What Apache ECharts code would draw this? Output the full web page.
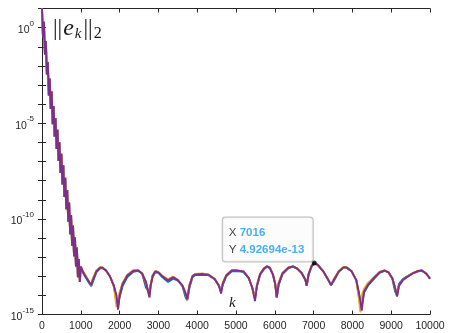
<!DOCTYPE html>
<html>
<head>
<meta charset="utf-8">
<script src="https://cdn.jsdelivr.net/npm/echarts@6/dist/echarts.min.js"></script>
<style>
  html, body { margin: 0; padding: 0; background: #ffffff; }
  #chart { width: 450px; height: 333px; }
</style>
</head>
<body>
<div id="chart"></div>
<script>
// Initial decay phase (the error oscillates while it drops), shared by all runs
const decayK = [0, 25, 50, 75, 100, 125, 150, 175, 200, 225, 250, 275, 300, 325, 350, 375, 400,
  425, 450, 475, 500, 525, 550, 575, 600, 625, 650, 675, 700, 725, 750, 775, 800, 825, 850, 875,
  900, 925, 950, 975, 1000];
const decayErr = [1e1, 3.2e-1, 2.0e0, 4.0e-2, 2.0e-1, 3.5e-3, 1.6e-2, 2.8e-4, 2.2e-3, 5.6e-5, 4.5e-4,
  8.9e-6, 7.9e-5, 2.0e-6, 1.8e-5, 4.5e-7, 4.5e-6, 1.1e-7, 1.0e-6, 2.5e-8, 2.5e-7, 6.3e-9, 6.3e-8,
  1.4e-9, 1.4e-8, 3.2e-10, 3.2e-9, 7.1e-11, 7.1e-10, 1.6e-11, 1.6e-10, 4.0e-12, 4.5e-11, 1.1e-12,
  1.1e-11, 3.2e-13, 3.2e-12, 8.9e-14, 7.9e-13, 5.0e-14, 3.2e-13];

// Stagnation phase: iteration numbers and error of each run
const tailK = [1060, 1150, 1230, 1270, 1310, 1400, 1500, 1560, 1650, 1750, 1850, 1920, 1960, 2000,
  2080, 2200, 2350, 2480, 2580, 2680, 2770, 2800, 2850, 2920, 3000, 3100, 3250, 3380, 3500, 3620,
  3700, 3745, 3800, 3880, 3950, 4150, 4290, 4450, 4560, 4615, 4660, 4750, 4890, 5000, 5190, 5330,
  5420, 5490, 5540, 5620, 5720, 5800, 5870, 5950, 6010, 6050, 6100, 6200, 6350, 6470, 6580, 6700,
  6790, 6822, 6870, 6950, 7016, 7100, 7250, 7380, 7450, 7520, 7650, 7780, 7860, 7980, 8100, 8170,
  8205, 8240, 8300, 8400, 8550, 8700, 8830, 8930, 9030, 9100, 9150, 9200, 9300, 9400, 9550, 9700,
  9790, 9900, 10000];

const errBlue = [1.5e-13, 7.1e-14, 4.0e-14, 3.0e-14, 5.0e-14, 1.6e-13, 2.6e-13, 2.7e-13, 2.0e-13,
  1.0e-13, 3.2e-14, 6.3e-15, 3.2e-15, 8.0e-15, 3.2e-14, 9.0e-14, 1.7e-13, 1.9e-13, 1.4e-13, 2.5e-14,
  1.4e-14, 3.5e-14, 9.0e-14, 1.6e-13, 1.5e-13, 9.0e-14, 5.0e-14, 7.5e-14, 6.0e-14, 3.0e-14, 8.0e-15,
  5.6e-15, 2.5e-14, 9.0e-14, 1.15e-13, 1.2e-13, 1.15e-13, 7.1e-14, 3.2e-14, 2.0e-14, 3.5e-14, 1.0e-13,
  1.8e-13, 1.85e-13, 1.7e-13, 7.9e-14, 2.5e-14, 8.0e-15, 3.0e-14, 1.15e-13, 2.3e-13, 3.1e-13, 2.7e-13,
  1.26e-13, 4.0e-14, 7.9e-15, 3.5e-14, 1.3e-13, 2.6e-13, 3.2e-13, 2.5e-13, 1.4e-13, 6.3e-14, 3.2e-14,
  1.15e-13, 3.3e-13, 4.7e-13, 4.0e-13, 1.8e-13, 6.3e-14, 3.5e-14, 5.6e-14, 1.7e-13, 2.9e-13, 2.8e-13,
  1.8e-13, 6.3e-14, 1.26e-14, 4.0e-15, 3.0e-15, 1.4e-14, 3.2e-14, 7.1e-14, 1.5e-13, 1.9e-13, 1.6e-13,
  7.1e-14, 1.6e-14, 1.1e-14, 4.0e-14, 7.1e-14, 9.5e-14, 1.4e-13, 1.8e-13, 1.9e-13, 1.4e-13, 7.9e-14];

const errOrange = [1.7e-13, 8.5e-14, 4.5e-14, 3.5e-14, 7.1e-14, 1.9e-13, 2.9e-13, 2.8e-13, 2.0e-13,
  1.0e-13, 3.2e-14, 5.0e-15, 2.2e-15, 1.3e-14, 4.5e-14, 1.15e-13, 2.0e-13, 2.0e-13, 1.4e-13, 4.0e-14,
  1.0e-14, 3.2e-14, 1.1e-13, 1.85e-13, 1.6e-13, 1.05e-13, 6.8e-14, 9.5e-14, 6.3e-14, 3.2e-14, 1.26e-14,
  6.3e-15, 3.5e-14, 1.05e-13, 1.3e-13, 1.35e-13, 1.2e-13, 7.1e-14, 3.2e-14, 1.6e-14, 4.5e-14, 1.15e-13,
  2.0e-13, 2.0e-13, 1.8e-13, 7.9e-14, 2.5e-14, 7.0e-15, 3.5e-14, 1.3e-13, 2.6e-13, 3.3e-13, 2.8e-13,
  1.26e-13, 4.0e-14, 7.9e-15, 4.5e-14, 1.5e-13, 2.9e-13, 3.3e-13, 2.5e-13, 1.4e-13, 6.3e-14, 3.2e-14,
  1.3e-13, 3.6e-13, 4.9e-13, 4.0e-13, 1.8e-13, 6.3e-14, 3.5e-14, 6.8e-14, 1.9e-13, 3.1e-13, 2.8e-13,
  1.8e-13, 6.3e-14, 7.9e-15, 2.5e-15, 6.0e-15, 2.0e-14, 4.0e-14, 8.5e-14, 1.7e-13, 2.0e-13, 1.6e-13,
  7.9e-14, 2.5e-14, 8.9e-15, 3.2e-14, 6.3e-14, 8.9e-14, 1.4e-13, 1.9e-13, 2.0e-13, 1.4e-13, 7.4e-14];

const errYellow = [1.8e-13, 8.9e-14, 4.5e-14, 3.5e-14, 7.1e-14, 2.0e-13, 3.0e-13, 2.9e-13, 2.0e-13,
  1.0e-13, 3.0e-14, 2.5e-15, 4.0e-15, 1.3e-14, 4.5e-14, 1.2e-13, 2.05e-13, 2.1e-13, 1.4e-13, 5.0e-14,
  7.9e-15, 3.2e-14, 1.1e-13, 1.9e-13, 1.7e-13, 1.05e-13, 6.3e-14, 9.5e-14, 6.3e-14, 3.2e-14, 1.26e-14,
  6.3e-15, 3.5e-14, 1.05e-13, 1.3e-13, 1.35e-13, 1.25e-13, 7.1e-14, 3.2e-14, 1.6e-14, 4.5e-14, 1.15e-13,
  2.1e-13, 2.1e-13, 1.85e-13, 7.9e-14, 2.5e-14, 7.0e-15, 3.5e-14, 1.3e-13, 2.6e-13, 3.4e-13, 2.9e-13,
  1.26e-13, 4.0e-14, 7.9e-15, 4.5e-14, 1.5e-13, 2.9e-13, 3.4e-13, 2.6e-13, 1.4e-13, 6.3e-14, 3.2e-14,
  1.3e-13, 3.6e-13, 5.0e-13, 4.1e-13, 1.8e-13, 6.3e-14, 3.5e-14, 6.8e-14, 1.9e-13, 3.1e-13, 2.9e-13,
  1.8e-13, 6.3e-14, 6.0e-15, 1.3e-15, 1.0e-14, 2.2e-14, 4.5e-14, 8.5e-14, 1.7e-13, 2.05e-13, 1.6e-13,
  7.9e-14, 2.5e-14, 8.9e-15, 3.2e-14, 6.3e-14, 8.9e-14, 1.45e-13, 1.95e-13, 2.05e-13, 1.4e-13, 7.4e-14];

const errPurple = [1.6e-13, 7.9e-14, 4.5e-14, 3.5e-14, 6.3e-14, 1.8e-13, 2.8e-13, 2.8e-13, 2.0e-13,
  1.0e-13, 3.2e-14, 1.0e-14, 1.8e-15, 1.0e-14, 4.0e-14, 1.1e-13, 1.9e-13, 2.0e-13, 1.4e-13, 5.0e-14,
  7.9e-15, 3.2e-14, 1.0e-13, 1.8e-13, 1.6e-13, 1.0e-13, 6.0e-14, 8.9e-14, 6.3e-14, 3.2e-14, 1.26e-14,
  6.3e-15, 3.2e-14, 1.0e-13, 1.26e-13, 1.3e-13, 1.2e-13, 7.1e-14, 3.2e-14, 1.26e-14, 4.0e-14, 1.1e-13,
  2.0e-13, 2.0e-13, 1.8e-13, 7.9e-14, 2.5e-14, 5.0e-15, 3.2e-14, 1.26e-13, 2.5e-13, 3.3e-13, 2.8e-13,
  1.26e-13, 4.0e-14, 7.9e-15, 4.0e-14, 1.4e-13, 2.8e-13, 3.3e-13, 2.5e-13, 1.4e-13, 6.3e-14, 3.2e-14,
  1.26e-13, 3.5e-13, 4.92694e-13, 4.0e-13, 1.8e-13, 6.3e-14, 3.5e-14, 6.3e-14, 1.8e-13, 3.0e-13, 2.8e-13,
  1.8e-13, 6.3e-14, 1.26e-14, 5.0e-15, 1.6e-15, 1.6e-14, 3.5e-14, 7.9e-14, 1.6e-13, 2.0e-13, 1.6e-13,
  7.9e-14, 2.5e-14, 8.9e-15, 3.2e-14, 6.3e-14, 8.9e-14, 1.4e-13, 1.9e-13, 2.0e-13, 1.4e-13, 7.4e-14];

// Data tip pinned on the purple run
const tipK = 7016;
const tipErr = 4.92694e-13;

const runColors = ['#0072BD', '#D95319', '#EDB120', '#7E2F8E'];
const runErrs = [errBlue, errOrange, errYellow, errPurple];

const axisColor = '#262626';
const sansFont = '"Liberation Sans", Arial, Helvetica, sans-serif';
const serifFont = '"Liberation Serif", "Times New Roman", serif';

function runData(errs) {
  const pts = decayK.map((k, i) => [k, decayErr[i]]);
  tailK.forEach((k, i) => pts.push([k, errs[i]]));
  return pts;
}

const lineSeries = runErrs.map((errs, r) => ({
  type: 'line',
  data: runData(errs),
  showSymbol: false,
  symbol: 'none',
  clip: true,
  lineStyle: { color: runColors[r], width: 1.9 },
  itemStyle: { color: runColors[r] },
  z: 2 + r
}));

const tipSeries = {
  type: 'scatter',
  data: [[tipK, tipErr]],
  symbol: 'circle',
  symbolSize: 5,
  itemStyle: { color: '#000000' },
  z: 10,
  label: {
    show: true,
    position: [1, 1],
    align: 'right',
    verticalAlign: 'bottom',
    formatter: () => '{l|X}{v|' + tipK + '}\n{l|Y}{v|' + tipErr.toExponential(5) + '}',
    backgroundColor: '#fbfbfd',
    borderColor: '#a9a9a9',
    borderWidth: 1,
    borderRadius: 3,
    padding: [7, 6, 3, 6],
    rich: {
      l: { fontFamily: sansFont, fontSize: 11.5, color: '#111111', lineHeight: 17, width: 11, align: 'left' },
      v: { fontFamily: sansFont, fontSize: 11.5, fontWeight: 'bold', color: '#1a9af2', lineHeight: 17, width: 67, align: 'left' }
    }
  }
};

const yLabelFmt = (v) => {
  const e = Math.round(Math.log10(v));
  if (e % 5 !== 0) return '';
  return '{b|10}{s|' + e + '}';
};

const chart = echarts.init(document.getElementById('chart'), null, { renderer: 'canvas' });
chart.setOption({
  animation: false,
  backgroundColor: '#ffffff',
  grid: { left: 42, right: 20, top: 8.5, bottom: 18.5, containLabel: false },
  xAxis: [{
    type: 'value', min: 0, max: 10000, interval: 1000, position: 'bottom',
    axisLine: { show: true, onZero: false, lineStyle: { color: axisColor, width: 1 } },
    axisTick: { show: true, inside: true, length: 4, lineStyle: { color: axisColor } },
    axisLabel: { color: axisColor, fontFamily: sansFont, fontSize: 10.5, margin: 6, formatter: (v) => String(v) },
    splitLine: { show: false }
  }, {
    type: 'value', min: 0, max: 10000, interval: 1000, position: 'top',
    axisLine: { show: true, onZero: false, lineStyle: { color: axisColor, width: 1 } },
    axisTick: { show: true, inside: true, length: 4, lineStyle: { color: axisColor } },
    axisLabel: { show: false },
    splitLine: { show: false }
  }],
  yAxis: [{
    type: 'log', logBase: 10, min: 1e-15, max: 1e1, interval: 1, position: 'left',
    axisLine: { show: true, lineStyle: { color: axisColor, width: 1 } },
    axisTick: { show: true, inside: true, length: 4, lineStyle: { color: axisColor } },
    axisLabel: {
      formatter: yLabelFmt, margin: 8,
      rich: {
        b: { fontFamily: sansFont, fontSize: 10.5, color: axisColor, lineHeight: 16, verticalAlign: 'bottom' },
        s: { fontFamily: sansFont, fontSize: 8, color: axisColor, lineHeight: 8, verticalAlign: 'top' }
      }
    },
    splitLine: { show: false },
    minorTick: { show: false }
  }, {
    type: 'log', logBase: 10, min: 1e-15, max: 1e1, interval: 1, position: 'right',
    axisLine: { show: true, lineStyle: { color: axisColor, width: 1 } },
    axisTick: { show: true, inside: true, length: 4, lineStyle: { color: axisColor } },
    axisLabel: { show: false },
    splitLine: { show: false }
  }],
  graphic: [{
    type: 'text', left: 53, top: 17, z: 20,
    style: {
      text: '{n|||}{e|e}{k|k}{n|||}{t|2}',
      rich: {
        n: { fontFamily: serifFont, fontSize: 23, fill: '#1a1a1a', lineHeight: 26, verticalAlign: 'middle' },
        e: { fontFamily: serifFont, fontSize: 24, fontStyle: 'italic', fill: '#1a1a1a', lineHeight: 26, verticalAlign: 'middle', padding: [0, 1, 0, 1] },
        k: { fontFamily: serifFont, fontSize: 15, fontStyle: 'italic', fill: '#1a1a1a', lineHeight: 14, verticalAlign: 'bottom', padding: [0, 2, 0, 0] },
        t: { fontFamily: serifFont, fontSize: 16, fill: '#1a1a1a', lineHeight: 14, verticalAlign: 'bottom', padding: [0, 0, 0, 1] }
      }
    }
  }, {
    type: 'text', left: 229, top: 296, z: 20,
    style: { text: 'k', fontFamily: serifFont, fontSize: 15, fontStyle: 'italic', fill: '#1a1a1a' }
  }],
  series: lineSeries.concat([tipSeries])
});
</script>
</body>
</html>
